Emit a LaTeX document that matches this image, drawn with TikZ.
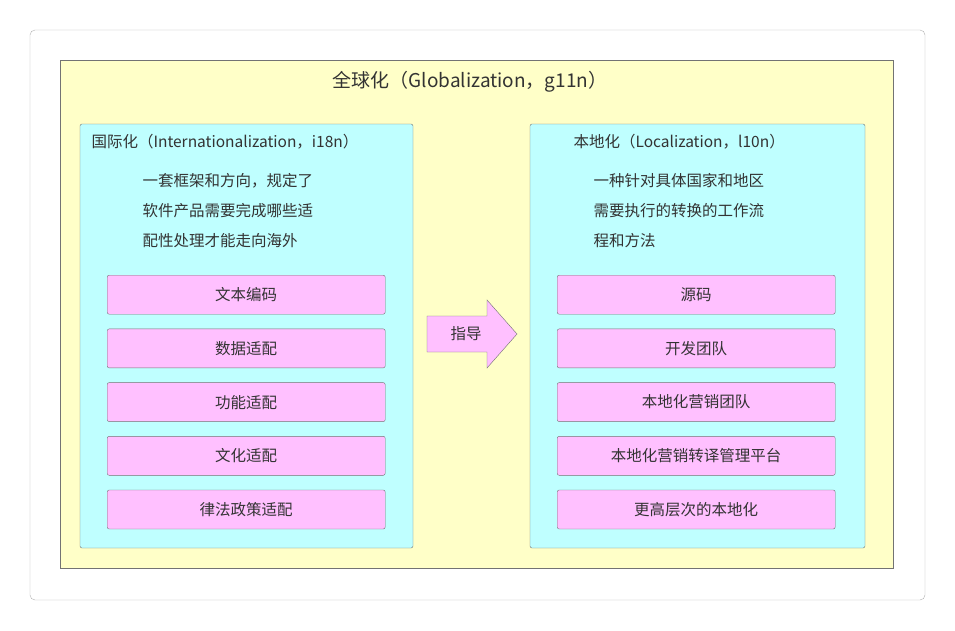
\documentclass[tikz,border=0pt]{standalone}
\usepackage{fontspec}
\setmainfont{Noto Sans CJK SC}
\definecolor{cy}{HTML}{BFFFFF}
\definecolor{pk}{HTML}{FFC0FF}
\definecolor{yl}{HTML}{FFFFC8}
\begin{document}
\begin{tikzpicture}[x=1pt,y=-1pt,
  tx/.style={text=black!80,font=\fontsize{15.5}{18}\selectfont},
  item/.style={draw=black!55,fill=pk,rounded corners=2pt,minimum width=278pt,minimum height=39pt,tx,anchor=north west,inner sep=0pt},
  panel/.style={draw=black!55,fill=cy,rounded corners=2pt}]
\useasboundingbox (0,0) rectangle (955,630);
\fill[white] (0,0) rectangle (955,630);
\draw[black!30,rounded corners=5pt] (30,30) rectangle (925,600);
\draw[black!55,fill=yl] (60,60) rectangle (893,568);
\node[tx,font=\fontsize{19}{22}\selectfont] (t) at (470,82) {全球化（Globalization，g11n）};
\draw[panel] (80,124) rectangle (413,548);
\draw[panel] (530,124) rectangle (865,548);
\node[tx,anchor=west] (lt) at (88,142) {国际化（Internationalization，i18n）};
\node[tx,anchor=west] (rt) at (570,142) {本地化（Localization，l10n）};
\node[tx,anchor=north west,align=left,font=\fontsize{15.5}{30}\selectfont] (ld) at (139,170) {一套框架和方向，规定了\\软件产品需要完成哪些适\\配性处理才能走向海外};
\node[tx,anchor=north west,align=left,font=\fontsize{15.5}{30}\selectfont] (rd) at (590,170) {一种针对具体国家和地区\\需要执行的转换的工作流\\程和方法};
\foreach \t [count=\i] in {文本编码,数据适配,功能适配,文化适配,律法政策适配}
  \node[item] (l\i) at (107,275+53.7*\i-53.7) {\t};
\foreach \t [count=\i] in {源码,开发团队,本地化营销团队,本地化营销转译管理平台,更高层次的本地化}
  \node[item] (r\i) at (557,275+53.7*\i-53.7) {\t};
\draw[black!55,fill=pk] (427,316) -- (487,316) -- (487,300) -- (517,334) -- (487,368) -- (487,352) -- (427,352) -- cycle;
\node[tx] (g) at (466,334) {指导};
\end{tikzpicture}
\end{document}
